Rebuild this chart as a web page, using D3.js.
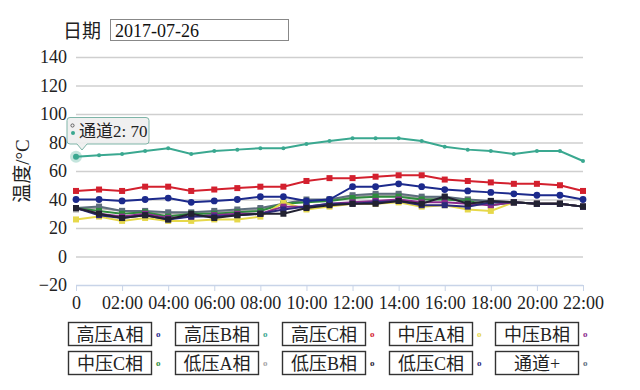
<!DOCTYPE html>
<html>
<head>
<meta charset="utf-8">
<script src="https://cdn.jsdelivr.net/npm/d3@7"></script>
<style>
body { margin: 0; background: #fff; }
text { font-family: "Liberation Serif", "Noto Sans CJK SC", serif; }
</style>
</head>
<body>
<div id="vis"></div>
<script>
// hourly categories, only even hours get a label
var hours = ["0", "01:00", "02:00", "03:00", "04:00", "05:00", "06:00", "07:00", "08:00", "09:00",
    "10:00", "11:00", "12:00", "13:00", "14:00", "15:00", "16:00", "17:00", "18:00", "19:00",
    "20:00", "21:00", "22:00"];
var xLabels = ["0", "02:00", "04:00", "06:00", "08:00", "10:00", "12:00", "14:00", "16:00", "18:00", "20:00", "22:00"];
var yTicks = [-20, 0, 20, 40, 60, 80, 100, 120, 140];

var names = ["高压A相", "高压B相", "高压C相", "中压A相", "中压B相", "中压C相", "低压A相", "低压B相", "低压C相", "通道+"];
var colors = ["#1c2a8c", "#3aa890", "#d3202e", "#e6d84a", "#8a2a8c", "#2e8c3c", "#a6a6a6", "#222232", "#2a2a7a", "#5e6e7e"];
var symbols = ["circle", "dot", "square", "tri", "square", "square", "square", "square", "square", "square"];

var hvA = [40, 40, 39, 40, 41, 38, 39, 40, 42, 42, 39, 40, 49, 49, 51, 49, 47, 46, 45, 44, 43, 43, 40];
var hvB = [70, 71, 72, 74, 76, 72, 74, 75, 76, 76, 79, 81, 83, 83, 83, 81, 77, 75, 74, 72, 74, 74, 67];
var hvC = [46, 47, 46, 49, 49, 46, 47, 48, 49, 49, 53, 55, 55, 56, 57, 57, 54, 53, 52, 51, 51, 50, 46];
var mvA = [26, 28, 25, 27, 25, 25, 26, 26, 28, 38, 33, 35, 37, 37, 38, 35, 36, 33, 32, 38, 37, 37, 35];
var mvB = [34, 30, 28, 30, 27, 28, 29, 30, 30, 35, 35, 37, 38, 39, 40, 38, 38, 37, 36, 38, 37, 37, 35];
var mvC = [34, 32, 30, 31, 28, 30, 30, 31, 32, 37, 38, 39, 41, 42, 42, 40, 40, 39, 36, 38, 37, 37, 35];
var lvA = [33, 34, 32, 31, 30, 30, 31, 32, 33, 37, 39, 40, 42, 43, 43, 41, 41, 40, 38, 38, 37, 37, 35];
var lvB = [34, 30, 27, 29, 26, 30, 27, 29, 30, 30, 34, 36, 37, 37, 39, 37, 42, 37, 39, 38, 37, 37, 35];
var lvC = [34, 29, 27, 29, 26, 28, 28, 29, 30, 33, 35, 37, 37, 38, 39, 36, 36, 35, 38, 38, 37, 37, 35];
var chan = [34, 35, 32, 32, 31, 31, 32, 33, 34, 37, 40, 40, 43, 44, 44, 42, 42, 40, 39, 38, 37, 37, 35];

var allSeries = [hvA, hvB, hvC, mvA, mvB, mvC, lvA, lvB, lvC, chan];
// draw order: grey bundle first, teal/red/navy on top
var drawOrder = [6, 9, 5, 3, 4, 8, 7, 0, 2, 1];

var width = 640, height = 390;

var svg = d3.select("#vis").append("svg")
    .attr("width", width)
    .attr("height", height);

svg.append("rect").attr("width", width).attr("height", height).attr("fill", "#fff");

// Header: date field ---------------------------------------------------------
svg.append("text")
    .attr("x", 63).attr("y", 38)
    .attr("font-size", 19)
    .attr("fill", "#222")
    .text("日期");
svg.append("rect")
    .attr("x", 110.5).attr("y", 19.5)
    .attr("width", 178).attr("height", 21)
    .attr("fill", "#fff")
    .attr("stroke", "#888")
    .attr("stroke-width", 1);
svg.append("text")
    .attr("x", 115).attr("y", 37)
    .attr("font-size", 18)
    .attr("fill", "#111")
    .text("2017-07-26");

// Scales ---------------------------------------------------------------------
var x = d3.scalePoint()
    .domain(hours)
    .range([76, 583]);
var y = d3.scaleLinear()
    .domain([-20, 140])
    .range([285, 57]);

// Grid lines + y labels
var yAxis = svg.append("g")
    .attr("transform", "translate(76,0)")
    .call(d3.axisLeft(y).tickValues(yTicks).tickSize(-507).tickPadding(9)
        .tickFormat(function(d) { return d < 0 ? "\u2212" + Math.abs(d) : d; }));
yAxis.select(".domain").remove();
yAxis.selectAll(".tick line")
    .attr("stroke", function(d) { return d == -20 ? "none" : "#cfcfcf"; })
    .attr("stroke-width", 1.3);
yAxis.selectAll(".tick text")
    .attr("font-family", "Liberation Serif")
    .attr("font-size", 18)
    .attr("fill", "#222");

// X axis
var xAxis = svg.append("g")
    .attr("transform", "translate(0," + y(-20) + ")")
    .call(d3.axisBottom(x).tickValues(xLabels).tickSize(6).tickPadding(5));
xAxis.select(".domain").attr("stroke", "#c8d4e8").attr("stroke-width", 1.3)
    .attr("d", "M76,0.5H583");
xAxis.selectAll(".tick line").attr("stroke", "#c8d4e8");
xAxis.selectAll(".tick text")
    .attr("font-family", "Liberation Serif")
    .attr("font-size", 18)
    .attr("fill", "#222");

// Y title
svg.append("text")
    .attr("transform", "translate(29,171) rotate(-90)")
    .attr("text-anchor", "middle")
    .attr("font-size", 19)
    .attr("fill", "#222")
    .text("温度/°C");

// Lines ----------------------------------------------------------------------
var line = d3.line()
    .x(function(d, i) { return x(hours[i]); })
    .y(function(d) { return y(d); });

drawOrder.forEach(function(k) {
    var g = svg.append("g");
    g.append("path")
        .datum(allSeries[k])
        .attr("fill", "none")
        .attr("stroke", colors[k])
        .attr("stroke-width", 2)
        .attr("d", line);

    var pts = g.selectAll(".pt")
        .data(allSeries[k])
        .enter();
    if (symbols[k] == "circle") {
        pts.append("circle")
            .attr("cx", function(d, i) { return x(hours[i]); })
            .attr("cy", function(d) { return y(d); })
            .attr("r", 3.4)
            .attr("fill", colors[k]);
    } else if (symbols[k] == "dot") {
        pts.append("circle")
            .attr("cx", function(d, i) { return x(hours[i]); })
            .attr("cy", function(d) { return y(d); })
            .attr("r", 2)
            .attr("fill", colors[k]);
    } else {
        pts.append("rect")
            .attr("x", function(d, i) { return x(hours[i]) - 3; })
            .attr("y", function(d) { return y(d) - 3; })
            .attr("width", 6)
            .attr("height", 6)
            .attr("fill", colors[k]);
    }
});

// Hover highlight + tooltip --------------------------------------------------
var hx = x(hours[0]), hy = y(hvB[0]);
svg.append("circle")
    .attr("cx", hx).attr("cy", hy).attr("r", 6)
    .attr("fill", colors[1]).attr("opacity", 0.3);
svg.append("circle")
    .attr("cx", hx).attr("cy", hy).attr("r", 3)
    .attr("fill", colors[1]);

var tip = svg.append("g");
tip.append("path")
    .attr("d", "M70,117.5H146a3,3 0 0 1 3,3V141a3,3 0 0 1 -3,3H87L82,150L77,144H70a3,3 0 0 1 -3,-3V120.5a3,3 0 0 1 3,-3Z")
    .attr("fill", "rgba(238,238,238,0.9)")
    .attr("stroke", "#7fb5a8")
    .attr("stroke-width", 1);
tip.append("circle")
    .attr("cx", 72.5).attr("cy", 125.5).attr("r", 1.6)
    .attr("fill", "none").attr("stroke", "#444").attr("stroke-width", 0.8);
tip.append("circle")
    .attr("cx", 73).attr("cy", 133).attr("r", 2)
    .attr("fill", colors[1]);
tip.append("text")
    .attr("x", 79).attr("y", 137)
    .attr("font-size", 17)
    .attr("fill", "#222")
    .text("通道2: 70");

// Legend ---------------------------------------------------------------------
var legendX = [68, 175, 282, 389, 495];
var legendY = [322, 351];

var legend = svg.selectAll(".legend")
    .data(names)
    .enter().append("g")
    .attr("class", "legend")
    .attr("transform", function(d, i) {
        return "translate(" + legendX[i % 5] + "," + legendY[Math.floor(i / 5)] + ")";
    });

legend.append("rect")
    .attr("x", 0.5).attr("y", 0.5)
    .attr("width", 83).attr("height", 23)
    .attr("fill", "#fff")
    .attr("stroke", "#333")
    .attr("stroke-width", 1.4);

legend.append("text")
    .attr("x", 42).attr("y", 18.5)
    .attr("text-anchor", "middle")
    .attr("font-size", 18)
    .attr("fill", "#222")
    .text(function(d) { return d; });

legend.append("text")
    .attr("x", 88).attr("y", 15)
    .attr("font-family", "Liberation Sans")
    .attr("font-size", 9)
    .attr("font-weight", "bold")
    .attr("fill", function(d, i) { return colors[i]; })
    .text("o");
</script>
</body>
</html>
